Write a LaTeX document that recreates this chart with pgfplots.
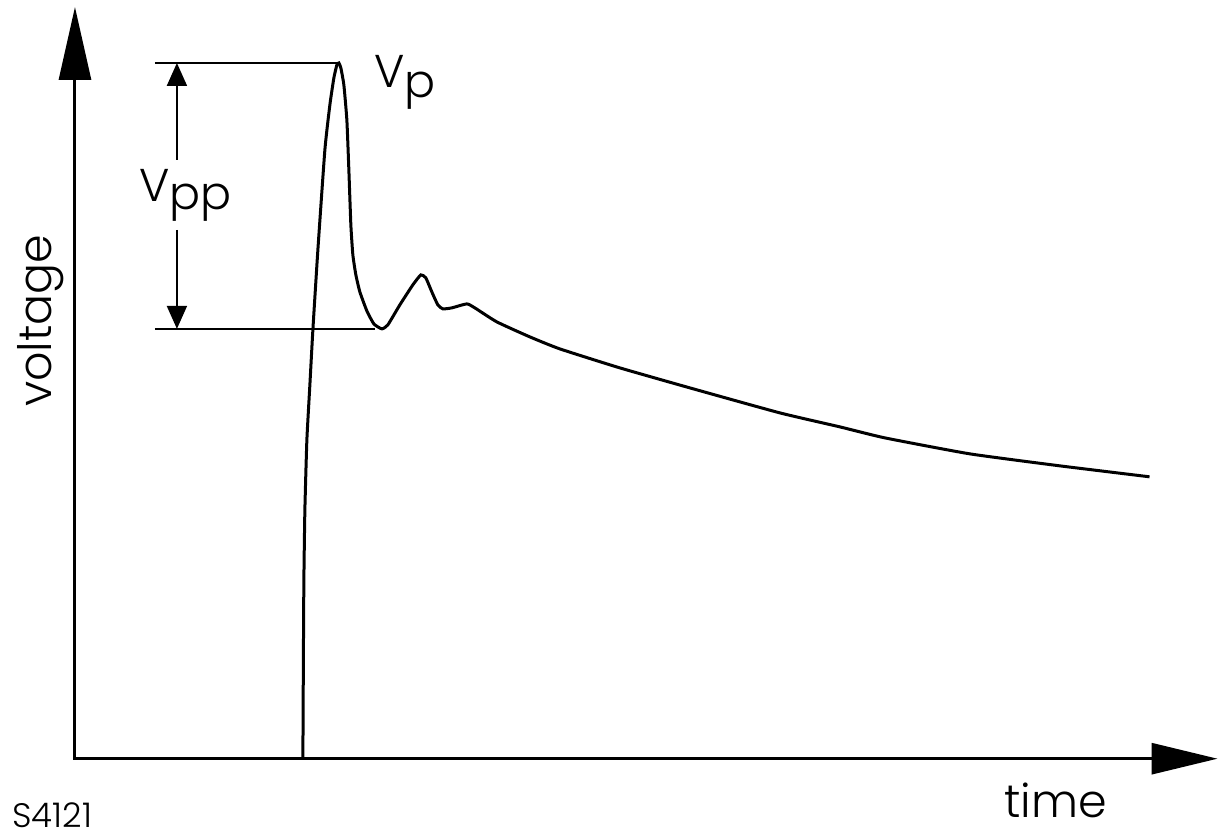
\documentclass[border=0pt]{standalone}
\usepackage{fontspec}
\IfFontExistsTF{Poppins Light}{\setmainfont{Poppins Light}}{\setmainfont{Poppins}}
\usepackage{pgfplots}
\pgfplotsset{compat=1.18}
\usetikzlibrary{arrows.meta}

% Pulse response: coordinates in drawing units (1 unit = 0.5pt), y measured downward
\pgfplotstableread{
x     y
303   760
303.5 660
304   580
305   510
307   440
310   385
313   330
318   250
325   150
330   105
334   78
337   65
339   63
341   68
344   85
347   120
349   170
351   225
353   255
356   275
360   292
367   311
374   324
382   329
388   325
400   305
413   285
421   275
426   278
432   292
438   305
443   309
452   308
467   304
475   308
497   322
530   337
560   349
620   368
690   388
780   413
840   427
885   438
970   454
1060  466
1150  477
}\pulse

\begin{document}
\begin{tikzpicture}
\begin{axis}[
  width=609.5pt, height=420pt, scale only axis,
  xmin=0, xmax=1219, ymin=0, ymax=840,
  y dir=reverse,
  hide axis,
  clip=false,
]
  % keep the page the size of the drawing area
  \path (axis cs:0,0) rectangle (axis cs:1219,840);

  % axes with large filled arrow heads
  \draw[line width=1.5pt, -{Triangle[length=36.5pt,width=16pt]}]
    (axis cs:75,760) -- (axis cs:75,7);
  \draw[line width=1.5pt, -{Triangle[length=33pt,width=15.5pt]}]
    (axis cs:74,759) -- (axis cs:1218,759);

  % the waveform
  \addplot[line width=1.5pt, black, smooth, tension=0.3] table[x=x,y=y] {\pulse};

  % peak and trough reference lines
  \draw[line width=1pt] (axis cs:155,63) -- (axis cs:337,63);
  \draw[line width=1pt] (axis cs:155,329) -- (axis cs:375,329);

  % Vpp dimension arrow
  \draw[line width=1pt, -{Triangle[length=11.5pt,width=10pt]}]
    (axis cs:177,160) -- (axis cs:177,63);
  \draw[line width=1pt, -{Triangle[length=11.5pt,width=10pt]}]
    (axis cs:177,230) -- (axis cs:177,329);

  % labels
  \node[anchor=base west, inner sep=0pt, font=\fontsize{23}{27}\selectfont]
    at (axis cs:139,202) {V\raisebox{-4pt}{pp}};
  \node[anchor=base west, inner sep=0pt, font=\fontsize{23}{27}\selectfont]
    at (axis cs:374,88) {V\raisebox{-5pt}{p}};
  \node[anchor=base, inner sep=0pt, rotate=90, font=\fontsize{23}{27}\selectfont]
    at (axis cs:52,321) {voltage};
  \node[anchor=base, inner sep=0pt, font=\fontsize{23}{27}\selectfont]
    at (axis cs:1056,818) {time};
  \node[anchor=base west, inner sep=0pt, font=\fontsize{17}{20}\selectfont]
    at (axis cs:12,828) {S4121};
\end{axis}
\end{tikzpicture}
\end{document}
